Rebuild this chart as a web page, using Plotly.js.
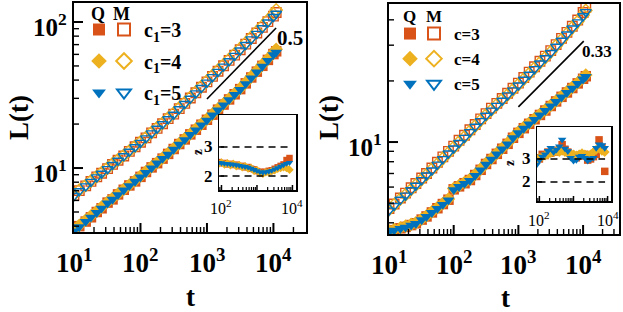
<!DOCTYPE html>
<html><head><meta charset="utf-8">
<script src="https://cdn.plot.ly/plotly-3.0.1.min.js"></script>
<style>html,body{margin:0;padding:0;background:#fff}#chart{width:623px;height:312px}</style>
</head><body><div id="chart"></div>
<script>
// ---------- data ----------
const tMain = [10, 12, 15, 18, 22, 26, 32, 38, 46, 56, 68, 83, 100, 121, 147, 178, 215, 261, 316, 383, 464, 562, 681, 825, 1000, 1212, 1468, 1778, 2154, 2610, 3162, 3831, 4642, 5623, 6813, 8254, 10000, 11000];

// left panel (c1 = 3, 4, 5)
const leftQ3 = [3.7, 4.0, 4.3, 4.6, 5.0, 5.3, 5.8, 6.1, 6.6, 7.1, 7.6, 8.1, 8.7, 9.4, 10.1, 10.8, 11.6, 12.5, 13.5, 14.6, 15.7, 17.0, 18.3, 19.8, 21.4, 23.2, 25.1, 27.2, 29.5, 32.0, 34.7, 38.0, 41.7, 45.7, 50.1, 55.0, 60.3, 63.0];
const leftQ4 = [3.8, 4.05, 4.4, 4.7, 5.05, 5.4, 5.85, 6.2, 6.65, 7.15, 7.65, 8.2, 8.8, 9.45, 10.2, 10.9, 11.7, 12.6, 13.6, 14.7, 15.9, 17.1, 18.5, 20.0, 21.6, 23.4, 25.4, 27.5, 29.8, 32.4, 35.1, 38.5, 42.3, 46.4, 51.0, 56.0, 61.5, 65.0];
const leftQ5 = [3.7, 3.95, 4.3, 4.6, 4.95, 5.3, 5.75, 6.1, 6.55, 7.05, 7.55, 8.1, 8.65, 9.3, 10.0, 10.8, 11.6, 12.4, 13.4, 14.5, 15.6, 16.9, 18.2, 19.7, 21.2, 23.0, 24.9, 27.0, 29.3, 31.8, 34.4, 37.7, 41.3, 45.3, 49.6, 54.4, 59.6, 62.0];
const leftM3 = [6.5, 7.0, 7.55, 8.1, 8.7, 9.2, 9.9, 10.6, 11.3, 12.1, 13.0, 14.0, 15.0, 16.1, 17.4, 18.7, 20.1, 21.8, 23.4, 25.5, 27.7, 30.2, 32.8, 35.7, 38.9, 42.4, 46.0, 50.1, 54.6, 59.3, 64.6, 70.5, 77.1, 84.1, 91.8, 100.5, 109.6, 116.0];
const leftM4 = [6.6, 7.05, 7.6, 8.15, 8.75, 9.3, 10.0, 10.7, 11.4, 12.2, 13.1, 14.1, 15.1, 16.2, 17.5, 18.9, 20.3, 22.0, 23.7, 25.8, 28.0, 30.5, 33.2, 36.2, 39.4, 43.0, 46.7, 50.9, 55.5, 60.4, 65.8, 71.9, 78.7, 86.0, 94.0, 103.0, 113.0, 121.0];
const leftM5 = [6.45, 6.95, 7.5, 8.05, 8.65, 9.15, 9.85, 10.5, 11.25, 12.05, 12.95, 13.9, 14.9, 16.0, 17.3, 18.6, 20.0, 21.6, 23.2, 25.3, 27.5, 29.9, 32.5, 35.4, 38.5, 42.0, 45.6, 49.6, 54.0, 58.7, 63.9, 69.7, 76.2, 83.1, 90.7, 99.3, 108.3, 114.0];

// right panel (c = 3, 4, 5)
const rightQ3 = [3.62, 3.68, 3.76, 3.82, 3.9, 3.98, 4.15, 4.3, 4.5, 4.72, 4.95, 5.2, 5.85, 6.05, 6.27, 6.5, 6.88, 7.3, 7.8, 8.25, 8.75, 9.27, 9.8, 10.5, 11.1, 11.7, 12.3, 12.95, 13.6, 14.3, 15.05, 15.85, 16.7, 17.55, 18.45, 19.45, 20.5, 21.1];
const rightQ4 = [3.65, 3.7, 3.78, 3.85, 3.93, 4.0, 4.17, 4.33, 4.53, 4.75, 4.98, 5.24, 5.9, 6.1, 6.32, 6.55, 6.92, 7.35, 7.85, 8.3, 8.8, 9.32, 9.86, 10.55, 11.2, 11.8, 12.4, 13.05, 13.7, 14.4, 15.15, 15.95, 16.8, 17.65, 18.6, 19.6, 20.7, 21.4];
const rightQ5 = [3.6, 3.67, 3.74, 3.8, 3.89, 3.96, 4.13, 4.29, 4.49, 4.7, 4.92, 5.18, 5.82, 6.03, 6.24, 6.46, 6.84, 7.28, 7.76, 8.22, 8.71, 9.23, 9.77, 10.47, 11.09, 11.67, 12.27, 12.91, 13.58, 14.29, 15.03, 15.81, 16.63, 17.5, 18.4, 19.4, 20.4, 21.0];
const rightM3 = [4.7, 4.95, 5.3, 5.6, 5.95, 6.25, 6.65, 7.0, 7.45, 7.95, 8.45, 9.0, 9.55, 10.2, 10.8, 11.5, 12.2, 13.0, 13.8, 14.7, 15.5, 16.4, 17.4, 18.4, 19.5, 20.8, 22.1, 23.5, 25.0, 26.5, 28.2, 30.2, 32.4, 34.7, 37.2, 39.9, 43.5, 46.0];
const rightM4 = [4.65, 4.9, 5.25, 5.5, 5.85, 6.15, 6.55, 6.9, 7.35, 7.8, 8.3, 8.85, 9.4, 10.0, 10.6, 11.3, 12.0, 12.8, 13.6, 14.4, 15.3, 16.2, 17.1, 18.1, 19.2, 20.4, 21.7, 23.1, 24.6, 26.1, 27.8, 29.8, 31.9, 34.2, 36.6, 39.2, 42.2, 44.5];
const rightM5 = [4.6, 4.85, 5.2, 5.45, 5.8, 6.1, 6.5, 6.85, 7.25, 7.75, 8.25, 8.8, 9.3, 9.9, 10.5, 11.2, 11.9, 12.7, 13.5, 14.3, 15.1, 16.0, 17.0, 18.0, 19.0, 20.3, 21.5, 22.9, 24.4, 25.9, 27.5, 29.5, 31.6, 33.9, 36.3, 38.9, 41.7, 43.7];

// insets: z-bar vs t
const insetT = [83, 100, 121, 147, 178, 215, 261, 316, 383, 464, 562, 681, 825, 1000, 1212, 1468, 1778, 2154, 2610, 3162, 3831, 4642, 5623, 6813, 8254];
const leftZ3 = [2.48, 2.44, 2.45, 2.40, 2.42, 2.38, 2.39, 2.34, 2.35, 2.30, 2.31, 2.25, 2.23, 2.17, 2.15, 2.13, 2.15, 2.18, 2.20, 2.25, 2.30, 2.35, 2.40, 2.55, 2.62];
const leftZ4 = [2.42, 2.47, 2.40, 2.44, 2.37, 2.42, 2.34, 2.38, 2.30, 2.34, 2.26, 2.28, 2.18, 2.20, 2.10, 2.08, 2.13, 2.12, 2.17, 2.20, 2.25, 2.28, 2.30, 2.28, 2.22];
const leftZ5 = [2.46, 2.45, 2.43, 2.42, 2.41, 2.40, 2.38, 2.36, 2.34, 2.32, 2.30, 2.26, 2.22, 2.18, 2.14, 2.12, 2.14, 2.16, 2.19, 2.24, 2.28, 2.33, 2.38, 2.43, 2.46];
const rightZ3 = [3.05, 3.0, 3.2, 3.15, 3.3, 3.25, 3.35, 3.3, 3.4, 3.62, 3.42, 3.3, 3.2, 3.1, 3.05, 3.15, 3.13, 3.2, 2.95, 3.0, 3.1, 3.2, 3.83, 3.5, 2.46];
const rightZ4 = [3.0, 3.05, 3.1, 3.15, 3.2, 3.25, 3.3, 3.34, 3.3, 3.35, 3.3, 3.25, 3.2, 3.2, 3.15, 3.2, 3.25, 3.2, 3.15, 3.2, 3.3, 3.4, 3.48, 3.35, 3.3];
const rightZ5 = [2.75, 2.95, 3.1, 3.2, 3.35, 3.48, 3.3, 3.4, 3.55, 3.84, 3.45, 3.34, 3.05, 2.92, 2.95, 3.1, 3.13, 3.05, 2.92, 3.0, 3.05, 3.48, 3.63, 3.6, 3.48];

// guide lines (slopes)
const leftGuideT = [1000, 10965];
const leftGuideL = [29.7, 91];
const rightGuideT = [1000, 10233];
const rightGuideL = [14.9, 31.4];
const leftSlopeLabel = '0.5';
const rightSlopeLabel = '0.33';

// tick labels / legend labels
const mainXTickVals = [10, 100, 1000, 10000];
const mainXTickText = ['10<sup>1</sup>', '10<sup>2</sup>', '10<sup>3</sup>', '10<sup>4</sup>'];
const leftYTickVals = [10, 100];
const leftYTickText = ['10<sup>1</sup>', '10<sup>2</sup>'];
const rightYTickVals = [10];
const rightYTickText = ['10<sup>1</sup>'];
const insetXTickVals = [100, 1000, 10000];
const insetXTickText = ['10<sup>2</sup>', '', '10<sup>4</sup>'];
const insetYTickVals = [2, 3];
const insetYTickText = ['2', '3'];
const insetRefLines = [2, 3];
const minorDecades = [1, 10, 100, 1000, 10000];
const minorSteps = [2, 3, 4, 5, 6, 7, 8, 9];
const leftLegendNames = ['c<sub>1</sub>=3', 'c<sub>1</sub>=4', 'c<sub>1</sub>=5'];
const rightLegendNames = ['c=3', 'c=4', 'c=5'];

// ---------- styles ----------
const FONT = 'Liberation Serif';
const colors = ['#D95319', '#EDB120', '#0072BD'];
const filledSym = ['square', 'diamond', 'triangle-down'];
const openSym = ['square-open', 'diamond-open', 'triangle-down-open'];
const minorVals = [];
minorDecades.forEach(d => minorSteps.forEach(s => minorVals.push(d * s)));

const traces = [];
function addPanel(xa, ya, Qs, Ms, names, qLeg, mLeg, pref) {
  Qs.forEach((y, i) => traces.push({
    x: tMain, y: y, xaxis: xa, yaxis: ya, type: 'scatter', mode: 'markers',
    name: '\u00a0', legend: qLeg, legendgroup: pref + 'q' + i,
    marker: {symbol: filledSym[i], color: colors[i], size: 10.5, line: {width: 0}}
  }));
  Ms.forEach((y, i) => traces.push({
    x: tMain, y: y, xaxis: xa, yaxis: ya, type: 'scatter', mode: 'markers',
    name: names[i], legend: mLeg, legendgroup: pref + 'm' + i,
    marker: {symbol: openSym[i], color: colors[i], size: 9.5, line: {width: 1.4, color: colors[i]}}
  }));
}
addPanel('x', 'y', [leftQ3, leftQ4, leftQ5], [leftM3, leftM4, leftM5], leftLegendNames, 'legend', 'legend2', 'L');
addPanel('x2', 'y2', [rightQ3, rightQ4, rightQ5], [rightM3, rightM4, rightM5], rightLegendNames, 'legend3', 'legend4', 'R');

traces.push({x: leftGuideT, y: leftGuideL, xaxis: 'x', yaxis: 'y', mode: 'lines', showlegend: false, line: {color: 'black', width: 1.6}});
traces.push({x: rightGuideT, y: rightGuideL, xaxis: 'x2', yaxis: 'y2', mode: 'lines', showlegend: false, line: {color: 'black', width: 1.6}});

[leftZ3, leftZ4, leftZ5].forEach((z, i) => traces.push({
  x: insetT, y: z, xaxis: 'x3', yaxis: 'y3', mode: 'markers', showlegend: false,
  marker: {symbol: filledSym[i], color: colors[i], size: 6.5}
}));
[rightZ3, rightZ4, rightZ5].forEach((z, i) => traces.push({
  x: insetT, y: z, xaxis: 'x4', yaxis: 'y4', mode: 'markers', showlegend: false,
  marker: {symbol: filledSym[i], color: colors[i], size: 7.5}
}));

const W = 623, H = 312;
const px = v => v / W, py = v => 1 - v / H;

// panel frames (pixel box + axis ranges)
const G = {
  L:  {xl: 74,  xr: 306, yb: 232, yt: 3,   xRange: [1, 4.49],    yRange: [0.562, 2.13], ylog: true},
  R:  {xl: 389, xr: 619, yb: 234, yt: 4,   xRange: [1, 4.555],   yRange: [0.547, 1.68], ylog: true},
  LI: {xl: 219, xr: 296, yb: 190, yt: 115, xRange: [1.93, 4.1],  yRange: [1.52, 4.1],   ylog: false},
  RI: {xl: 537, xr: 611, yb: 201, yt: 127, xRange: [1.93, 4.1],  yRange: [1.17, 4.39],  ylog: false}
};

function frameAxis(g, isX, anchor, lw) {
  const a = {
    domain: isX ? [px(g.xl), px(g.xr)] : [py(g.yb), py(g.yt)],
    range: isX ? g.xRange : g.yRange, anchor: anchor,
    showline: true, linecolor: 'black', linewidth: lw, mirror: true,
    ticks: '', showticklabels: false, showgrid: false, zeroline: false, fixedrange: true};
  if (isX || g.ylog) a.type = 'log';
  return a;
}

const shapes = [];
// tick marks, placed from the tick values on each axis' own range
function tickMarks(g, xVals, yVals, xMinor, yMinor, majLen, minLen, majW, minW) {
  const fx = v => (Math.log10(v) - g.xRange[0]) / (g.xRange[1] - g.xRange[0]);
  const fy = v => ((g.ylog ? Math.log10(v) : v) - g.yRange[0]) / (g.yRange[1] - g.yRange[0]);
  const xt = (vals, len, w) => vals.forEach(v => {
    const f = fx(v); if (f <= 0.004 || f >= 0.99) return;
    const X = g.xl + f * (g.xr - g.xl);
    shapes.push({type: 'line', xref: 'paper', yref: 'paper', x0: px(X), x1: px(X), y0: py(g.yb), y1: py(g.yb - len),
      line: {color: 'black', width: w}, layer: 'above'});
  });
  const yt = (vals, len, w) => vals.forEach(v => {
    const f = fy(v); if (f <= 0.004 || f >= 0.99) return;
    const Y = g.yb - f * (g.yb - g.yt);
    shapes.push({type: 'line', xref: 'paper', yref: 'paper', x0: px(g.xl), x1: px(g.xl + len), y0: py(Y), y1: py(Y),
      line: {color: 'black', width: w}, layer: 'above'});
  });
  xt(xVals, majLen, majW); yt(yVals, majLen, majW);
  if (xMinor) xt(xMinor, minLen, minW);
  if (yMinor) yt(yMinor, minLen, minW);
}
tickMarks(G.L, mainXTickVals, leftYTickVals, minorVals, minorVals, 9, 5, 2, 1.4);
tickMarks(G.R, mainXTickVals, rightYTickVals, minorVals, minorVals, 9, 5, 2, 1.4);
tickMarks(G.LI, insetXTickVals, insetYTickVals, minorVals, null, 5, 3, 1.5, 1.2);
tickMarks(G.RI, insetXTickVals, insetYTickVals, minorVals, null, 5, 3, 1.5, 1.2);

[['x3', 'y3'], ['x4', 'y4']].forEach(([xa, ya]) => insetRefLines.forEach(v => shapes.push({
  type: 'line', xref: xa + ' domain', x0: 0.02, x1: 0.92, yref: ya, y0: v, y1: v,
  line: {color: 'black', width: 1.6, dash: '7px,5px'}
})));

function legendCfg(xpx, ypx, size, gap) {
  return {x: px(xpx), y: py(ypx), xanchor: 'left', yanchor: 'top',
    bgcolor: 'rgba(0,0,0,0)', borderwidth: 0,
    font: {family: FONT, size: size, color: 'black', weight: 'bold'},
    itemsizing: 'constant', traceorder: 'grouped', tracegroupgap: gap};
}

const ann = (text, x, y, size, extra) => Object.assign({
  text: text, xref: 'paper', yref: 'paper', x: px(x), y: py(y), showarrow: false,
  font: {family: FONT, size: size, color: 'black', weight: 'bold'}, xanchor: 'center', yanchor: 'middle'
}, extra || {});

const annotations = [
  ann('L(t)', 19, 118, 27, {textangle: -90}),
  ann('L(t)', 329, 118, 27, {textangle: -90}),
  ann('t', 190, 297, 27),
  ann('t', 506, 298, 27),
  ann(leftSlopeLabel, 290, 38, 21),
  ann(rightSlopeLabel, 597, 52, 17),
  ann('Q', 98, 14, 18), ann('M', 122, 14, 18),
  ann('Q', 409, 16, 17), ann('M', 434, 16, 17),
  ann('z\u0304', 197, 152, 13, {textangle: -90}),
  ann('z\u0304', 509, 163, 13, {textangle: -90})
];
// tick numbers, positioned by the axis values
function xTickLabels(xa, vals, txt, ypx, size, bold) {
  vals.forEach((v, i) => { if (txt[i]) annotations.push({
    text: txt[i], xref: xa, x: Math.log10(v), yref: 'paper', y: py(ypx), showarrow: false,
    xanchor: 'center', yanchor: 'middle',
    font: {family: FONT, size: size, color: 'black', weight: bold ? 'bold' : 'normal'}}); });
}
function yTickLabels(ya, vals, txt, xpx, size, isLog, shift) {
  vals.forEach((v, i) => annotations.push({
    text: txt[i], yref: ya, y: isLog ? Math.log10(v) : v, xref: 'paper', x: px(xpx), showarrow: false,
    xanchor: 'right', yanchor: 'middle', yshift: shift,
    font: {family: FONT, size: size, color: 'black', weight: 'bold'}}));
}
xTickLabels('x', mainXTickVals, mainXTickText, 261, 27, true);
xTickLabels('x2', mainXTickVals, mainXTickText, 263, 27, true);
yTickLabels('y', leftYTickVals, leftYTickText, 69, 25, true, -3);
yTickLabels('y2', rightYTickVals, rightYTickText, 384, 25, true, -3);
xTickLabels('x3', insetXTickVals, insetXTickText, 207, 16, false);
xTickLabels('x4', insetXTickVals, insetXTickText, 219, 16, false);
yTickLabels('y3', insetYTickVals, insetYTickText, 215, 17, false, 0);
yTickLabels('y4', insetYTickVals, insetYTickText, 533, 17, false, 0);

const layout = {
  width: W, height: H, margin: {l: 0, r: 0, t: 0, b: 0},
  paper_bgcolor: 'white', plot_bgcolor: 'white',
  font: {family: FONT, color: 'black'},
  xaxis: frameAxis(G.L, true, 'y', 2),
  yaxis: frameAxis(G.L, false, 'x', 2),
  xaxis2: frameAxis(G.R, true, 'y2', 2),
  yaxis2: frameAxis(G.R, false, 'x2', 2),
  xaxis3: frameAxis(G.LI, true, 'y3', 1.5),
  yaxis3: frameAxis(G.LI, false, 'x3', 1.5),
  xaxis4: frameAxis(G.RI, true, 'y4', 1.5),
  yaxis4: frameAxis(G.RI, false, 'x4', 1.5),
  legend: legendCfg(79, 10, 20, 2.5),
  legend2: legendCfg(104, 10, 20, 2.5),
  legend3: legendCfg(390, 16, 17, 0),
  legend4: legendCfg(414, 16, 17, 0),
  shapes: shapes,
  annotations: annotations,
  showlegend: true
};

Plotly.newPlot('chart', traces, layout, {displayModeBar: false, staticPlot: true});
</script>
</body></html>
